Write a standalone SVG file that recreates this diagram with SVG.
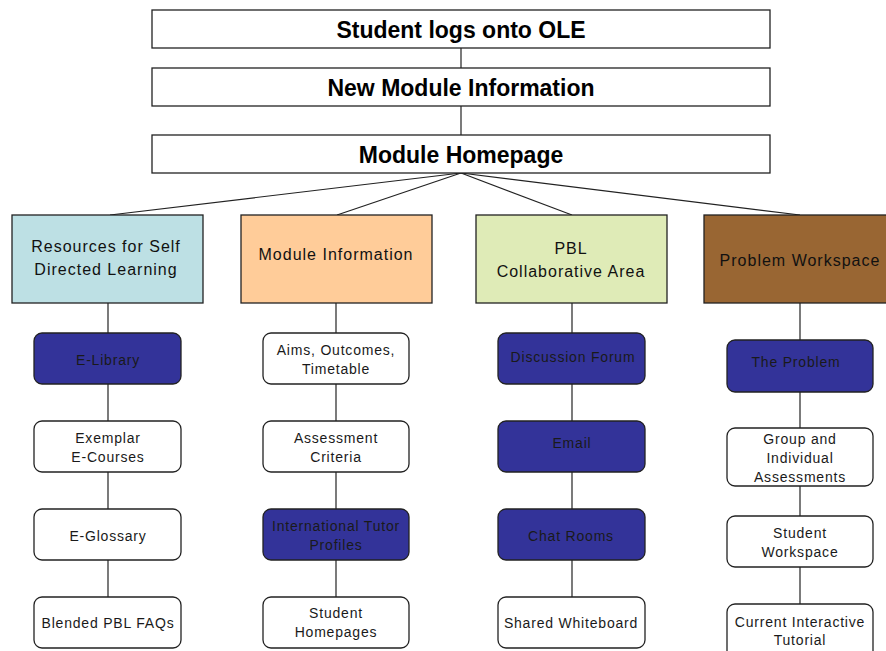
<svg xmlns="http://www.w3.org/2000/svg" width="886" height="651" viewBox="0 0 886 651">
<style>
.top{fill:#fff;stroke:#222;stroke-width:1.3}
.topt{font-family:"Liberation Sans",Arial,sans-serif;font-weight:bold;font-size:23px;fill:#000;text-anchor:middle}
.cat{stroke:#222;stroke-width:1.3}
.catt{font-family:"Liberation Sans",Arial,sans-serif;font-size:16px;letter-spacing:1px;fill:#111;text-anchor:middle}
.w{fill:#fff;stroke:#222;stroke-width:1.3}
.b{fill:#333399;stroke:#222;stroke-width:1.3}
.t{font-family:"Liberation Sans",Arial,sans-serif;font-size:14px;letter-spacing:0.8px;fill:#1a1a1a;text-anchor:middle}
.c{stroke:#222;stroke-width:1.2;fill:none}
</style>
<rect width="886" height="651" fill="#fff"/>
<g id="connectors">
<line class="c" x1="461" y1="48" x2="461" y2="68"/>
<line class="c" x1="461" y1="106" x2="461" y2="135"/>
<line class="c" x1="461" y1="173" x2="110" y2="215"/>
<line class="c" x1="461" y1="173" x2="337" y2="215"/>
<line class="c" x1="461" y1="173" x2="572" y2="215"/>
<line class="c" x1="461" y1="173" x2="800" y2="215"/>
<line class="c" x1="108" y1="303" x2="108" y2="597"/>
<line class="c" x1="336" y1="303" x2="336" y2="597"/>
<line class="c" x1="572" y1="303" x2="572" y2="597"/>
<line class="c" x1="800" y1="303" x2="800" y2="604"/>
</g>
<g id="n-login"><rect class="top" x="152" y="10" width="618" height="38"/><text class="topt" x="461" y="38">Student logs onto OLE</text></g>
<g id="n-newmodule"><rect class="top" x="152" y="68" width="618" height="38"/><text class="topt" x="461" y="96">New Module Information</text></g>
<g id="n-homepage"><rect class="top" x="152" y="135" width="618" height="38"/><text class="topt" x="461" y="163">Module Homepage</text></g>

<g id="n-resources"><rect class="cat" x="12" y="215" width="191" height="88" fill="#bde0e4"/><text class="catt" x="106" y="252">Resources for Self</text><text class="catt" x="106" y="275">Directed Learning</text></g>
<g id="n-modinfo"><rect class="cat" x="241" y="215" width="191" height="88" fill="#ffcc99"/><text class="catt" x="336" y="260">Module Information</text></g>
<g id="n-pbl"><rect class="cat" x="476" y="215" width="191" height="88" fill="#dfebb7"/><text class="catt" x="571" y="254">PBL</text><text class="catt" x="571" y="277">Collaborative Area</text></g>
<g id="n-problem"><rect class="cat" x="704" y="215" width="191" height="88" fill="#996633"/><text class="catt" x="800" y="266">Problem Workspace</text></g>

<g id="n-elibrary"><rect class="b" x="34" y="333" width="147" height="51" rx="8"/><text class="t" x="108" y="365">E-Library</text></g>
<g id="n-exemplar"><rect class="w" x="34" y="421" width="147" height="51" rx="8"/><text class="t" x="108" y="443">Exemplar</text><text class="t" x="108" y="462">E-Courses</text></g>
<g id="n-eglossary"><rect class="w" x="34" y="509" width="147" height="51" rx="8"/><text class="t" x="108" y="541">E-Glossary</text></g>
<g id="n-faqs"><rect class="w" x="34" y="597" width="147" height="51" rx="8"/><text class="t" x="108" y="628">Blended PBL FAQs</text></g>

<g id="n-aims"><rect class="w" x="263" y="333" width="146" height="51" rx="8"/><text class="t" x="336" y="355">Aims, Outcomes,</text><text class="t" x="336" y="374">Timetable</text></g>
<g id="n-assess"><rect class="w" x="263" y="421" width="146" height="51" rx="8"/><text class="t" x="336" y="443">Assessment</text><text class="t" x="336" y="462">Criteria</text></g>
<g id="n-tutor"><rect class="b" x="263" y="509" width="146" height="51" rx="8"/><text class="t" x="336" y="531">International Tutor</text><text class="t" x="336" y="550">Profiles</text></g>
<g id="n-studenthome"><rect class="w" x="263" y="597" width="146" height="51" rx="8"/><text class="t" x="336" y="618">Student</text><text class="t" x="336" y="637">Homepages</text></g>

<g id="n-forum"><rect class="b" x="498" y="333" width="147" height="51" rx="8"/><text class="t" x="573" y="362">Discussion Forum</text></g>
<g id="n-email"><rect class="b" x="498" y="421" width="147" height="51" rx="8"/><text class="t" x="572" y="448">Email</text></g>
<g id="n-chat"><rect class="b" x="498" y="509" width="147" height="51" rx="8"/><text class="t" x="571" y="541">Chat Rooms</text></g>
<g id="n-whiteboard"><rect class="w" x="498" y="597" width="147" height="51" rx="8"/><text class="t" x="571" y="628">Shared Whiteboard</text></g>

<g id="n-theproblem"><rect class="b" x="727" y="340" width="146" height="52" rx="8"/><text class="t" x="796" y="367">The Problem</text></g>
<g id="n-groupassess"><rect class="w" x="727" y="428" width="146" height="58" rx="8"/><text class="t" x="800" y="444">Group and</text><text class="t" x="800" y="463">Individual</text><text class="t" x="800" y="482">Assessments</text></g>
<g id="n-workspace"><rect class="w" x="727" y="516" width="146" height="51" rx="8"/><text class="t" x="800" y="538">Student</text><text class="t" x="800" y="557">Workspace</text></g>
<g id="n-tutorial"><rect class="w" x="727" y="604" width="146" height="60" rx="8"/><text class="t" x="800" y="627">Current Interactive</text><text class="t" x="800" y="645">Tutorial</text></g>
</svg>
